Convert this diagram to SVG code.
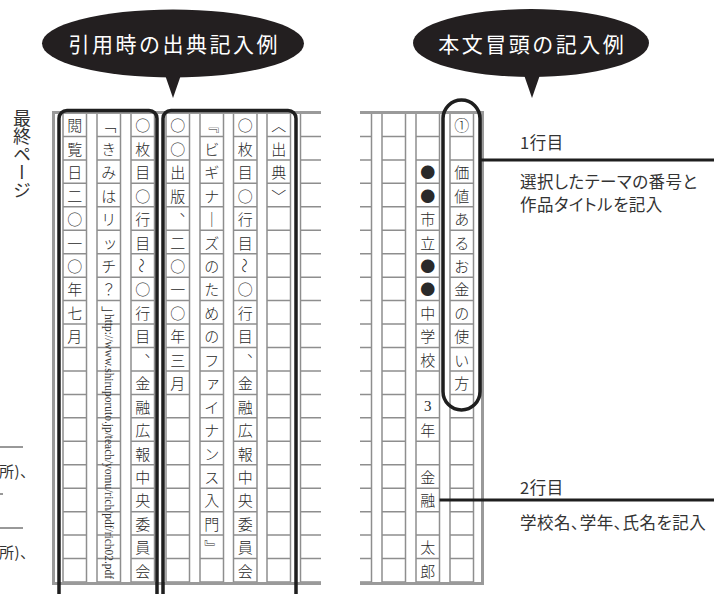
<svg xmlns="http://www.w3.org/2000/svg" width="720" height="594" viewBox="0 0 720 594">
<style>
.grid{fill:none;stroke:#8e8e8e;stroke-width:1.5}
.bord{fill:none;stroke:#9a9a9a;stroke-width:3}
.blk{fill:none;stroke:#1e1e1e;stroke-width:3.5}
.c{font-family:"Noto Sans CJK JP",sans-serif;font-size:15px;font-weight:300;fill:#2a2a2a;text-anchor:middle;dominant-baseline:central}
.bub{fill:#231f20}
.bt{font-family:"Noto Sans CJK JP",sans-serif;font-size:21px;fill:#fff;text-anchor:middle;dominant-baseline:central;letter-spacing:2.5px}
.ann{font-family:"Noto Sans CJK JP",sans-serif;font-size:16.5px;fill:#333;letter-spacing:0.5px;dominant-baseline:central;font-feature-settings:"palt"}
.conn{stroke:#1e1e1e;stroke-width:3;fill:none}
.thin{stroke:#333;stroke-width:1;fill:none}
.url{font-family:"Liberation Serif",serif;font-size:12.5px;fill:#333;dominant-baseline:central}
</style>
<defs>
<g id="col" class="grid">
<rect x="0" y="113" width="23.5" height="469"/>
<path d="M0 136.45h23.5M0 159.9h23.5M0 183.35h23.5M0 206.8h23.5M0 230.25h23.5M0 253.7h23.5M0 277.15h23.5M0 300.6h23.5M0 324.05h23.5M0 347.5h23.5M0 370.95h23.5M0 394.4h23.5M0 417.85h23.5M0 441.3h23.5M0 464.75h23.5M0 488.2h23.5M0 511.65h23.5M0 535.1h23.5M0 558.55h23.5"/>
</g>
<clipPath id="clipL"><rect x="0" y="0" width="321" height="594"/></clipPath>
<clipPath id="clipR"><rect x="360" y="0" width="130" height="594"/></clipPath>
</defs>

<g id="bubble-left">
<ellipse class="bub" cx="173" cy="43.5" rx="131" ry="34"/>
<polygon class="bub" points="164,72 182,72 173,98"/>
<text class="bt" x="174.25" y="43">引用時の出典記入例</text>
</g>

<g id="bubble-right">
<ellipse class="bub" cx="531" cy="43" rx="118" ry="34"/>
<polygon class="bub" points="523,72 541,72 532,98"/>
<text class="bt" x="532.25" y="43">本文冒頭の記入例</text>
</g>

<g id="last-page-label">
<text x="22" y="109" style="writing-mode:vertical-rl;font-family:'Noto Sans CJK JP',sans-serif;font-size:18px;fill:#333">最終ページ</text>
</g>

<g id="cut-text">
<line class="thin" x1="0" y1="447" x2="23" y2="447"/>
<text class="ann" x="-1" y="470" style="font-size:15px">所)、</text>
<line class="thin" x1="0" y1="494" x2="3" y2="494"/>
<line class="thin" x1="0" y1="528" x2="23" y2="528"/>
<text class="ann" x="-1" y="551" style="font-size:15px">所)、</text>
</g>

<g id="grid-left">
<g clip-path="url(#clipL)">
<use href="#col" x="63"/>
<use href="#col" x="97"/>
<use href="#col" x="131"/>
<use href="#col" x="166"/>
<use href="#col" x="200"/>
<use href="#col" x="233.5"/>
<use href="#col" x="267"/>
<use href="#col" x="300.5"/>
<path class="bord" d="M53.5 583.5V112.5H321M52 583.5H321"/>
</g>
<g id="col-1">
<text class="c" x="74.75" y="124.7">閲</text><text class="c" x="74.75" y="148.2">覧</text><text class="c" x="74.75" y="171.6">日</text><text class="c" x="74.75" y="195.1">二</text><text class="c" x="74.75" y="218.5">○</text><text class="c" x="74.75" y="242">一</text><text class="c" x="74.75" y="265.4">○</text><text class="c" x="74.75" y="288.9">年</text><text class="c" x="74.75" y="312.3">七</text><text class="c" x="74.75" y="335.8">月</text>
</g>
<g id="col-2">
<text class="c" x="108.75" y="124.7">﹁</text><text class="c" x="108.75" y="148.2">き</text><text class="c" x="108.75" y="171.6">み</text><text class="c" x="108.75" y="195.1">は</text><text class="c" x="108.75" y="218.5">リ</text><text class="c" x="110" y="241">ッ</text><text class="c" x="108.75" y="265.4">チ</text><text class="c" x="108.75" y="288.9">？</text><text class="c" x="108.75" y="312.3">﹂</text>
<text class="url" transform="translate(108.75 314) rotate(90)" x="0" y="0" textLength="265" lengthAdjust="spacingAndGlyphs">http://www.shiruporuto.jp/teach/yomu/rich/pdf/rich02.pdf</text>
</g>
<g id="col-3">
<text class="c" x="142.75" y="124.7">○</text><text class="c" x="142.75" y="148.2">枚</text><text class="c" x="142.75" y="171.6">目</text><text class="c" x="142.75" y="195.1">○</text><text class="c" x="142.75" y="218.5">行</text><text class="c" x="142.75" y="242">目</text><text class="c" transform="rotate(90 142.75 265.4)" x="142.75" y="265.4">〜</text><text class="c" x="142.75" y="288.9">○</text><text class="c" x="142.75" y="312.3">行</text><text class="c" x="142.75" y="335.8">目</text><text class="c" x="142.75" y="359.2">︑</text><text class="c" x="142.75" y="382.7">金</text><text class="c" x="142.75" y="406.1">融</text><text class="c" x="142.75" y="429.6">広</text><text class="c" x="142.75" y="453">報</text><text class="c" x="142.75" y="476.5">中</text><text class="c" x="142.75" y="499.9">央</text><text class="c" x="142.75" y="523.4">委</text><text class="c" x="142.75" y="546.8">員</text><text class="c" x="142.75" y="570.3">会</text>
</g>
<g id="col-4">
<text class="c" x="177.75" y="124.7">○</text><text class="c" x="177.75" y="148.2">○</text><text class="c" x="177.75" y="171.6">出</text><text class="c" x="177.75" y="195.1">版</text><text class="c" x="177.75" y="218.5">︑</text><text class="c" x="177.75" y="242">二</text><text class="c" x="177.75" y="265.4">○</text><text class="c" x="177.75" y="288.9">一</text><text class="c" x="177.75" y="312.3">○</text><text class="c" x="177.75" y="335.8">年</text><text class="c" x="177.75" y="359.2">三</text><text class="c" x="177.75" y="382.7">月</text>
</g>
<g id="col-5">
<text class="c" x="211.75" y="124.7">﹃</text><text class="c" x="211.75" y="148.2">ビ</text><text class="c" x="211.75" y="171.6">ギ</text><text class="c" x="211.75" y="195.1">ナ</text><text class="c" x="211.75" y="218.5">｜</text><text class="c" x="211.75" y="242">ズ</text><text class="c" x="211.75" y="265.4">の</text><text class="c" x="211.75" y="288.9">た</text><text class="c" x="211.75" y="312.3">め</text><text class="c" x="211.75" y="335.8">の</text><text class="c" x="211.75" y="359.2">フ</text><text class="c" x="213" y="381.5">ァ</text><text class="c" x="211.75" y="406.1">イ</text><text class="c" x="211.75" y="429.6">ナ</text><text class="c" x="211.75" y="453">ン</text><text class="c" x="211.75" y="476.5">ス</text><text class="c" x="211.75" y="499.9">入</text><text class="c" x="211.75" y="523.4">門</text><text class="c" x="211.75" y="546.8">﹄</text>
</g>
<g id="col-6">
<text class="c" x="245.25" y="124.7">○</text><text class="c" x="245.25" y="148.2">枚</text><text class="c" x="245.25" y="171.6">目</text><text class="c" x="245.25" y="195.1">○</text><text class="c" x="245.25" y="218.5">行</text><text class="c" x="245.25" y="242">目</text><text class="c" transform="rotate(90 245.25 265.4)" x="245.25" y="265.4">〜</text><text class="c" x="245.25" y="288.9">○</text><text class="c" x="245.25" y="312.3">行</text><text class="c" x="245.25" y="335.8">目</text><text class="c" x="245.25" y="359.2">︑</text><text class="c" x="245.25" y="382.7">金</text><text class="c" x="245.25" y="406.1">融</text><text class="c" x="245.25" y="429.6">広</text><text class="c" x="245.25" y="453">報</text><text class="c" x="245.25" y="476.5">中</text><text class="c" x="245.25" y="499.9">央</text><text class="c" x="245.25" y="523.4">委</text><text class="c" x="245.25" y="546.8">員</text><text class="c" x="245.25" y="570.3">会</text>
</g>
<g id="col-7">
<text class="c" x="278.75" y="124.7">︿</text><text class="c" x="278.75" y="148.2">出</text><text class="c" x="278.75" y="171.6">典</text><text class="c" x="278.75" y="195.1">﹀</text>
</g>
<rect id="group-citation-1" class="blk" x="59" y="110.5" width="98" height="520" rx="8"/>
<rect id="group-citation-2" class="blk" x="163" y="110.5" width="133" height="520" rx="8"/>
</g>

<g id="grid-right">
<g clip-path="url(#clipR)">
<use href="#col" x="348"/>
<use href="#col" x="382"/>
<use href="#col" x="416"/>
<use href="#col" x="450"/>
<path class="bord" d="M360 112.5H482.5V583.5H360"/>
</g>
<g id="col-name">
<text class="c" x="427.75" y="171.6">●</text><text class="c" x="427.75" y="195.1">●</text><text class="c" x="427.75" y="218.5">市</text><text class="c" x="427.75" y="242">立</text><text class="c" x="427.75" y="265.4">●</text><text class="c" x="427.75" y="288.9">●</text><text class="c" x="427.75" y="312.3">中</text><text class="c" x="427.75" y="335.8">学</text><text class="c" x="427.75" y="359.2">校</text><text class="c" x="427.75" y="406.1" style="font-family:'Liberation Serif',serif">3</text><text class="c" x="427.75" y="429.6">年</text><text class="c" x="427.75" y="476.5">金</text><text class="c" x="427.75" y="499.9">融</text><text class="c" x="427.75" y="546.8">太</text><text class="c" x="427.75" y="570.3">郎</text>
</g>
<g id="col-title">
<text class="c" x="461.75" y="124.7">①</text><text class="c" x="461.75" y="171.6">価</text><text class="c" x="461.75" y="195.1">値</text><text class="c" x="461.75" y="218.5">あ</text><text class="c" x="461.75" y="242">る</text><text class="c" x="461.75" y="265.4">お</text><text class="c" x="461.75" y="288.9">金</text><text class="c" x="461.75" y="312.3">の</text><text class="c" x="461.75" y="335.8">使</text><text class="c" x="461.75" y="359.2">い</text><text class="c" x="461.75" y="382.7">方</text>
</g>
<rect id="line1-highlight" class="blk" x="443" y="100" width="37" height="310" rx="18.5"/>
</g>

<g id="connectors">
<line class="conn" x1="480" y1="160" x2="714" y2="160"/>
<line class="conn" x1="439.5" y1="500" x2="714" y2="500"/>
</g>

<g id="note-line1">
<text class="ann" x="520" y="142">1行目</text>
<text class="ann" x="520" y="181">選択したテーマの番号と</text>
<text class="ann" x="520" y="204">作品タイトルを記入</text>
</g>

<g id="note-line2">
<text class="ann" x="520" y="487">2行目</text>
<text class="ann" x="520" y="522">学校名、学年、氏名を記入</text>
</g>
</svg>
